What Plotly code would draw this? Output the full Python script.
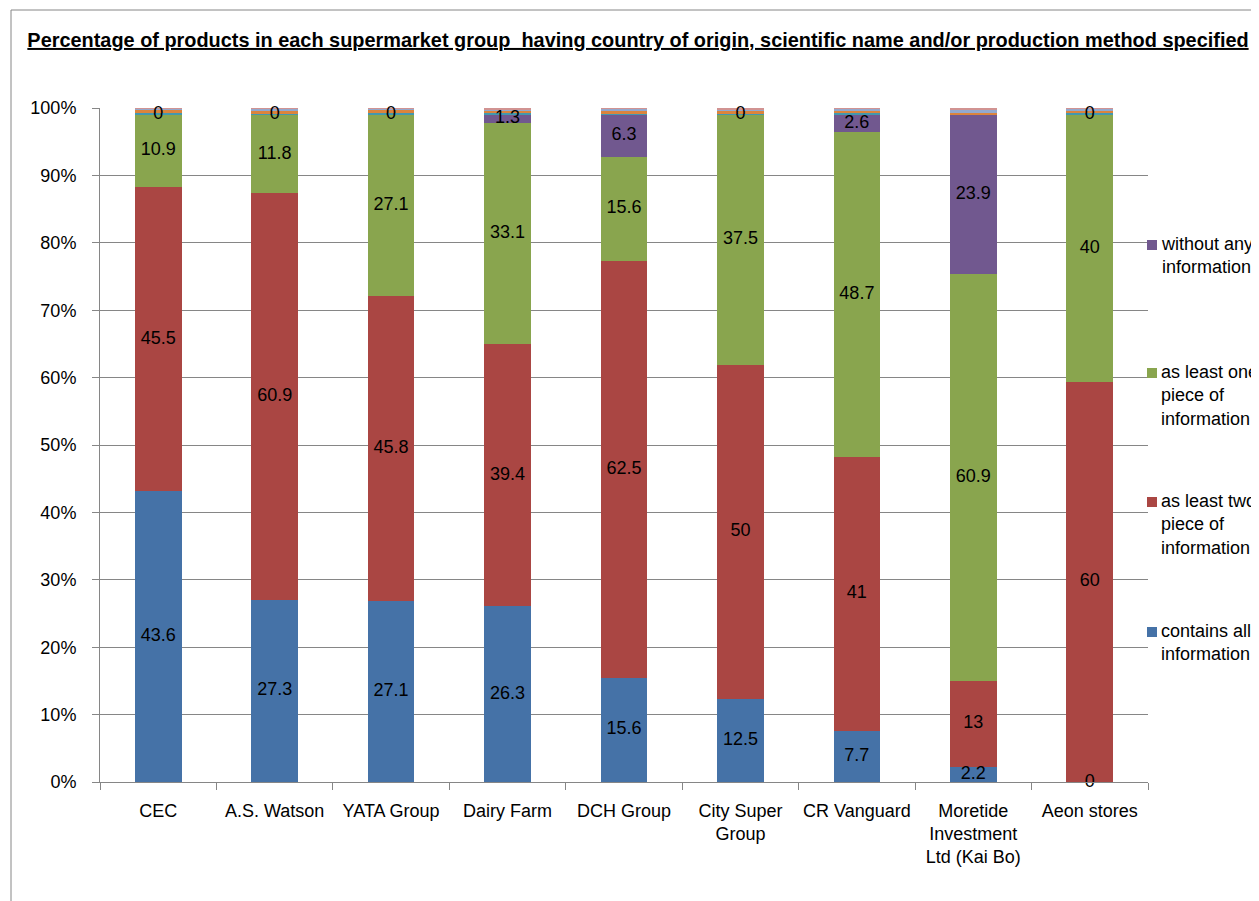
import plotly.graph_objects as go

categories = ["CEC", "A.S. Watson", "YATA Group", "Dairy Farm", "DCH Group",
              "City Super<br>Group", "CR Vanguard",
              "Moretide<br>Investment<br>Ltd (Kai Bo)", "Aeon stores"]

contains_all = [43.6, 27.3, 27.1, 26.3, 15.6, 12.5, 7.7, 2.2, 0]
at_least_two = [45.5, 60.9, 45.8, 39.4, 62.5, 50, 41, 13, 60]
at_least_one = [10.9, 11.8, 27.1, 33.1, 15.6, 37.5, 48.7, 60.9, 40]
without_any = [0, 0, 0, 1.3, 6.3, 0, 2.6, 23.9, 0]

# small unlabelled series stacked at the top of each bar
extra_aqua = [0.15, 0.1, 0.3, 0.1, 0.1, 0.1, 0.3, 0.05, 0.2]
extra_orange = [0.5, 0.45, 0.4, 0.3, 0.4, 0.45, 0.3, 0.2, 0.4]
extra_lightblue = [0.25, 0.35, 0.2, 0.3, 0.4, 0.1, 0.3, 0.4, 0.3]
extra_pink = [0.05, 0.1, 0.1, 0.2, 0.1, 0.3, 0.1, 0.3, 0.1]

legend_labels = ["contains all<br>information",
                 "as least two<br>piece of<br>information",
                 "as least one<br>piece of<br>information",
                 "without any<br>information"]

main_series = [contains_all, at_least_two, at_least_one, without_any]
main_colors = ["#4572A7", "#AA4643", "#89A54E", "#71588F"]
extra_series = [extra_aqua, extra_orange, extra_lightblue, extra_pink]
extra_colors = ["#4198AF", "#DB843D", "#93A9CF", "#D19392"]

all_series = main_series + extra_series
all_colors = main_colors + extra_colors
n = len(categories)
totals = [sum(s[i] for s in all_series) for i in range(n)]
norm = [[s[i] / totals[i] * 100 for i in range(n)] for s in all_series]

FONT = "Liberation Sans, Arial, sans-serif"
GRAY = "#868686"

fig = go.Figure()
for vals, col in zip(norm, all_colors):
    fig.add_trace(go.Bar(x=categories, y=vals, marker_color=col,
                         marker_line_width=0, width=0.4, showlegend=False,
                         hoverinfo="skip"))

# data labels centred in each of the four main segments
base = [0.0] * n
for k, raw in enumerate(main_series):
    mids = [base[i] + norm[k][i] / 2 for i in range(n)]
    fig.add_trace(go.Scatter(x=categories, y=mids, mode="text",
                             text=[f"{v:g}" for v in raw],
                             textfont=dict(family=FONT, size=18, color="black"),
                             cliponaxis=False, showlegend=False, hoverinfo="skip"))
    base = [base[i] + norm[k][i] for i in range(n)]

# page has an 8px body margin; figure sized to fit the viewport
OFF = 8
W, H = 1251, 893
L, T = 100 - OFF, 108 - OFF
R, B = W - (1148 - OFF), H - (782 - OFF)
pw, ph = W - L - R, H - T - B

def px(x):  # page pixel -> paper x
    return (x - OFF - L) / pw

def py(y):  # page pixel -> paper y
    return (H - B - (y - OFF)) / ph

shapes = []
annotations = []
# outer chart border
shapes.append(dict(type="rect", xref="paper", yref="paper",
                   x0=px(11), x1=px(1300), y0=py(960), y1=py(10),
                   line=dict(color=GRAY, width=1), layer="below"))

# custom legend (top to bottom: without any, one, two, all)
legend_centres = [632, 502, 373, 245]
for lab, col, yc in zip(legend_labels, main_colors, legend_centres):
    shapes.append(dict(type="rect", xref="paper", yref="paper",
                       x0=px(1147), x1=px(1157), y0=py(yc + 5), y1=py(yc - 5),
                       fillcolor=col, line=dict(width=0)))
    annotations.append(dict(xref="paper", yref="paper", x=px(1159), y=py(yc - 13),
                            xanchor="left", yanchor="top", align="left",
                            showarrow=False, text=lab,
                            font=dict(family=FONT, size=18, color="black")))

fig.update_layout(
    width=W, height=H,
    margin=dict(l=L, r=R, t=T, b=B, autoexpand=False),
    paper_bgcolor="white", plot_bgcolor="white",
    barmode="stack", bargap=0.6,
    title=dict(text="Percentage of products in each supermarket group  having country of origin, scientific name and/or production method specified",
               x=(638 - OFF) / W, xanchor="center", xref="container",
               y=1 - (40 - OFF) / H, yanchor="middle", yref="container",
               font=dict(family=FONT, size=19.9, color="black", weight="bold",
                         lineposition="under")),
    shapes=shapes, annotations=annotations,
    showlegend=False,
)
fig.update_yaxes(range=[0, 100], tickvals=list(range(0, 101, 10)),
                 ticktext=[f"{v}%" for v in range(0, 101, 10)],
                 showgrid=True, gridcolor=GRAY, gridwidth=1,
                 showline=True, linecolor=GRAY, linewidth=1,
                 ticks="outside", ticklen=7, tickcolor=GRAY,
                 ticklabelstandoff=12, zeroline=False,
                 tickfont=dict(family=FONT, size=18, color="black"))
fig.update_xaxes(showline=True, linecolor=GRAY, linewidth=1,
                 ticks="outside", ticklen=7, tickcolor=GRAY,
                 tickson="boundaries", showgrid=False, tickangle=0,
                 ticklabelstandoff=12,
                 tickfont=dict(family=FONT, size=18, color="black"))

fig.write_html("out.html")
